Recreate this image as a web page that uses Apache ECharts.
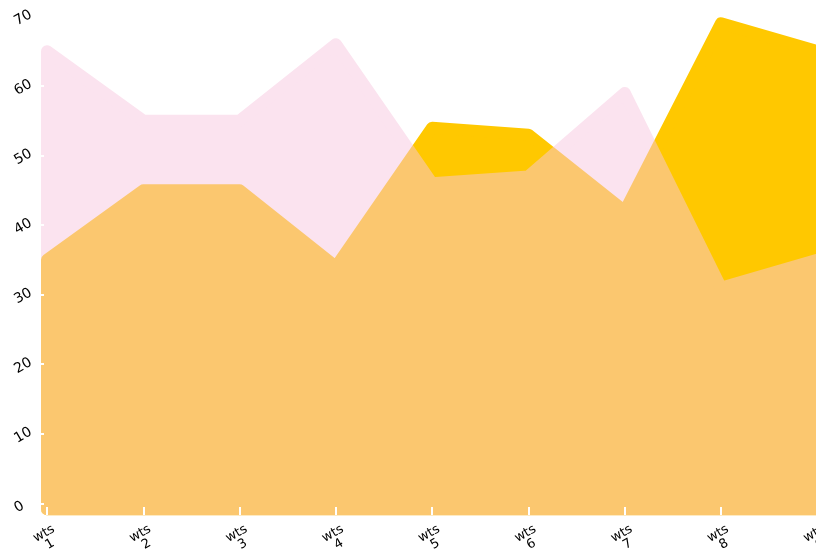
<!DOCTYPE html>
<html>
<head>
<meta charset="utf-8">
<script src="https://cdn.jsdelivr.net/npm/echarts@6/dist/echarts.min.js"></script>
<style>
  html, body { margin: 0; padding: 0; background: #fff; }
  #main { width: 816px; height: 549px; }
  /* pink series lives on its own layer so its fill + stroke fade together */
  #main canvas[data-zr-dom-id="zr_1"] { opacity: 0.5; }
</style>
</head>
<body>
<div id="main"></div>
<script>
var categories = ['wts\n1', 'wts\n2', 'wts\n3', 'wts\n4', 'wts\n5', 'wts\n6', 'wts\n7', 'wts\n8', 'wts\n9'];
var yellowValues = [35, 45, 45, 34, 54, 53, 42, 69, 65];
var pinkValues = [65, 55, 55, 66, 46, 47, 59, 31, 35];

var font = 'DejaVu Sans';

// one padded polygon per series, drawn on the first item only
function areaShape(values, color) {
    return function (params, api) {
        if (params.dataIndex !== 0) return null;
        var pts = values.map(function (v, i) { return api.coord([i, v]); });
        var base = api.coord([0, 0])[1] + 6;
        pts.push([pts[pts.length - 1][0], base]);
        pts.push([pts[0][0], base]);
        return {
            type: 'polygon',
            shape: { points: pts },
            style: { fill: color, stroke: color, lineWidth: 12, lineJoin: 'round' }
        };
    };
}

function pairs(values) {
    return values.map(function (v, i) { return [i, v]; });
}

var chart = echarts.init(document.getElementById('main'));
chart.setOption({
    animation: false,
    grid: [
        // plot grid: 0 sits at y=503
        { left: 47, right: -1.3, top: 16.4, bottom: 45.7, containLabel: false, outerBoundsMode: 'none' },
        // category axis grid, its baseline a bit lower (y=515)
        { left: 47, right: -1.3, top: 16.4, bottom: 34, containLabel: false, outerBoundsMode: 'none' }
    ],
    xAxis: [
        {
            type: 'category',
            gridIndex: 0,
            data: categories,
            boundaryGap: false,
            show: false
        },
        {
            type: 'category',
            gridIndex: 1,
            data: categories,
            boundaryGap: false,
            zlevel: 2,
            axisLine: { show: false },
            axisTick: { show: true, inside: true, length: 8, lineStyle: { color: '#fff', width: 2 } },
            axisLabel: {
                interval: 0,
                rotate: 30,
                align: 'center',
                verticalAlign: 'middle',
                margin: 24,
                color: '#000',
                fontFamily: font,
                fontSize: 13,
                lineHeight: 12
            },
            splitLine: { show: false }
        }
    ],
    yAxis: [
        {
            type: 'value',
            gridIndex: 0,
            min: 0,
            max: 70,
            interval: 10,
            offset: 7,
            zlevel: 2,
            axisLine: { show: false },
            axisTick: { show: true, inside: true, length: 4, lineStyle: { color: '#fff', width: 2 } },
            axisLabel: {
                rotate: 30,
                align: 'left',
                verticalAlign: 'top',
                margin: 28,
                color: '#000',
                fontFamily: font,
                fontSize: 14
            },
            splitLine: { show: false }
        },
        {
            type: 'value',
            gridIndex: 1,
            min: 0,
            max: 70,
            show: false
        }
    ],
    series: [
        {
            name: 'yellow',
            type: 'custom',
            zlevel: 0,
            renderItem: areaShape(yellowValues, '#ffc800'),
            data: pairs(yellowValues)
        },
        {
            name: 'pink',
            type: 'custom',
            zlevel: 1,
            renderItem: areaShape(pinkValues, '#f7c7df'),
            data: pairs(pinkValues)
        }
    ]
});
</script>
</body>
</html>
